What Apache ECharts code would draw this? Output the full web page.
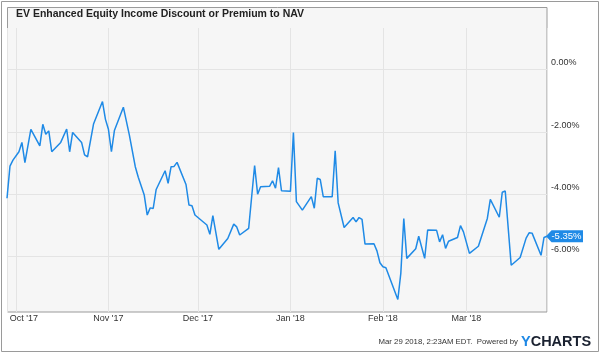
<!DOCTYPE html>
<html>
<head>
<meta charset="utf-8">
<title>EV Enhanced Equity Income Discount or Premium to NAV</title>
<script src="https://cdn.jsdelivr.net/npm/echarts@6/dist/echarts.min.js"></script>
<style>
  html, body { margin: 0; padding: 0; background: #fff; }
  #main { width: 600px; height: 353px; }
</style>
</head>
<body>
<div id="main"></div>
<script>
// 折价/溢价 数据 (%)
var dates = [
  '2017-09-28', '2017-09-29', '2017-09-30', '2017-10-02', '2017-10-03', '2017-10-04', '2017-10-06',
  '2017-10-09', '2017-10-10', '2017-10-11', '2017-10-12', '2017-10-13', '2017-10-16', '2017-10-18',
  '2017-10-19', '2017-10-20', '2017-10-23', '2017-10-24', '2017-10-25', '2017-10-27', '2017-10-30',
  '2017-10-31', '2017-11-01', '2017-11-02', '2017-11-03', '2017-11-06', '2017-11-08', '2017-11-10',
  '2017-11-11', '2017-11-13', '2017-11-14', '2017-11-15', '2017-11-16', '2017-11-17', '2017-11-20',
  '2017-11-21', '2017-11-22', '2017-11-23', '2017-11-24', '2017-11-27', '2017-11-28', '2017-11-29',
  '2017-11-30', '2017-12-04', '2017-12-05', '2017-12-06', '2017-12-08', '2017-12-11', '2017-12-13',
  '2017-12-14', '2017-12-15', '2017-12-18', '2017-12-20', '2017-12-21', '2017-12-22', '2017-12-25',
  '2017-12-26', '2017-12-27', '2017-12-28', '2017-12-29', '2018-01-01', '2018-01-02', '2018-01-03',
  '2018-01-05', '2018-01-08', '2018-01-09', '2018-01-10', '2018-01-11', '2018-01-12', '2018-01-15',
  '2018-01-16', '2018-01-17', '2018-01-19', '2018-01-22', '2018-01-23', '2018-01-24', '2018-01-25',
  '2018-01-26', '2018-01-29', '2018-01-30', '2018-01-31', '2018-02-01', '2018-02-02', '2018-02-06',
  '2018-02-07', '2018-02-08', '2018-02-09', '2018-02-12', '2018-02-13', '2018-02-15', '2018-02-16',
  '2018-02-19', '2018-02-20', '2018-02-21', '2018-02-22', '2018-02-23', '2018-02-26', '2018-02-27',
  '2018-02-28', '2018-03-02', '2018-03-05', '2018-03-08', '2018-03-09', '2018-03-12', '2018-03-13',
  '2018-03-14', '2018-03-16', '2018-03-19', '2018-03-21', '2018-03-22', '2018-03-23', '2018-03-26',
  '2018-03-27', '2018-03-28'
];
var values = [
  -4.13, -3.10, -2.91, -2.64, -2.34, -2.99, -1.92,
  -2.45, -1.76, -2.08, -1.97, -2.64, -2.34, -1.91,
  -2.64, -2.02, -2.34, -2.74, -2.80, -1.75, -1.03,
  -1.60, -1.92, -2.64, -1.96, -1.21, -2.10, -3.12,
  -3.46, -4.03, -4.67, -4.44, -4.46, -3.85, -3.25,
  -3.65, -3.12, -3.11, -2.98, -3.69, -4.35, -4.37,
  -4.67, -4.99, -5.29, -4.69, -5.77, -5.42, -4.96,
  -5.05, -5.31, -5.10, -3.08, -4.00, -3.76, -3.75,
  -3.57, -3.81, -3.15, -3.89, -3.91, -2.02, -4.24,
  -4.51, -4.08, -4.45, -3.49, -3.53, -4.08, -4.08,
  -2.61, -4.28, -5.07, -4.75, -4.89, -4.75, -4.81,
  -5.60, -5.59, -5.82, -6.20, -6.33, -6.36, -7.38,
  -6.54, -4.78, -6.06, -5.75, -5.35, -6.06, -5.15,
  -5.16, -5.53, -5.30, -5.74, -5.51, -5.39, -5.01,
  -5.21, -5.90, -5.67, -4.78, -4.17, -4.74, -3.94,
  -3.90, -6.28, -6.03, -5.41, -5.24, -5.25, -5.96,
  -5.39, -5.35
];
var monthNames = ['Jan', 'Feb', 'Mar', 'Apr', 'May', 'Jun', 'Jul', 'Aug', 'Sep', 'Oct', 'Nov', 'Dec'];
var footerText = 'Mar 29 2018, 2:23AM EDT.  Powered by';

var lineColor = '#1f8ae6';
var fontFamily = 'Liberation Sans, Arial, sans-serif';
var seriesData = dates.map(function (d, i) { return [d, values[i]]; });
var lastPoint = seriesData[seriesData.length - 1];

var myChart = echarts.init(document.getElementById('main'));
var option = {
  animation: false,
  textStyle: { fontFamily: fontFamily },
  title: {
    text: 'EV Enhanced Equity Income Discount or Premium to NAV',
    left: 16,
    top: 9,
    padding: 0,
    textStyle: { fontSize: 10.5, fontWeight: 'bold', color: '#222' }
  },
  graphic: [
    // 外框
    { type: 'rect', z: -10, shape: { x: 1.5, y: 1.5, width: 597, height: 350 },
      style: { fill: '#fff', stroke: '#9a9a9a', lineWidth: 1 } },
    // 图表框
    { type: 'rect', z: -9, shape: { x: 7.5, y: 7.5, width: 539.5, height: 304.5 },
      style: { fill: '#f6f6f6', stroke: '#9a9a9a', lineWidth: 1 } },
    { type: 'text', x: 518, y: 342,
      style: { text: footerText, fontSize: 7.8, fill: '#333', align: 'right', verticalAlign: 'middle',
        fontFamily: fontFamily } },
    { type: 'text', x: 521, y: 341.5,
      style: { text: '{y|Y}{c|CHARTS}', fontFamily: fontFamily, verticalAlign: 'middle',
        rich: {
          y: { fontSize: 14.5, fontWeight: 'bold', fill: '#1e88e5', color: '#1e88e5' },
          c: { fontSize: 14.5, fontWeight: 'bold', fill: '#1a2130', color: '#1a2130' }
        } } }
  ],
  grid: { left: 7, right: 53, top: 28, bottom: 41 },
  xAxis: {
    type: 'time',
    min: dates[0],
    max: dates[dates.length - 1],
    splitNumber: 6,
    axisLine: { show: false },
    axisTick: { show: false },
    splitLine: { show: true, lineStyle: { color: '#e4e4e4', width: 1 } },
    axisLabel: {
      margin: 2,
      fontSize: 9,
      color: '#333',
      hideOverlap: false,
      formatter: function (val) {
        var d = new Date(val);
        var s = monthNames[d.getMonth()] + " '" + String(d.getFullYear()).slice(2);
        return d.getMonth() === 9 ? '{first|' + s + '}' : s;
      },
      rich: { first: { padding: [0, 0, 0, 16], fontSize: 9, color: '#333' } }
    }
  },
  yAxis: {
    type: 'value',
    position: 'right',
    min: -7.78,
    max: 1.33,
    minInterval: 2,
    maxInterval: 2,
    axisLine: { show: false },
    axisTick: { show: false },
    splitLine: { show: true, showMinLine: false, showMaxLine: false, lineStyle: { color: '#e4e4e4', width: 1 } },
    axisLabel: {
      margin: 4,
      fontSize: 9,
      color: '#333',
      verticalAlign: 'bottom',
      lineHeight: 13,
      showMinLabel: false,
      showMaxLabel: false,
      formatter: function (v) {
        return Math.abs(v % 2) > 1e-6 ? '' : v.toFixed(2) + '%';
      }
    }
  },
  series: [
    {
      type: 'line',
      data: seriesData,
      showSymbol: false,
      lineStyle: { color: lineColor, width: 1.5 },
      itemStyle: { color: lineColor },
      markPoint: {
        symbol: 'path://M0,6 L6,0 L40,0 L40,12 L6,12 Z',
        symbolSize: [37, 12],
        symbolOffset: [17.5, 0],
        symbolKeepAspect: false,
        itemStyle: { color: lineColor },
        label: {
          show: true,
          position: 'inside',
          offset: [2, 0],
          color: '#fff',
          fontSize: 9.5,
          formatter: function (p) { return p.value.toFixed(2) + '%'; }
        },
        data: [{ coord: lastPoint, value: lastPoint[1] }]
      }
    }
  ]
};
myChart.setOption(option);
</script>
</body>
</html>
